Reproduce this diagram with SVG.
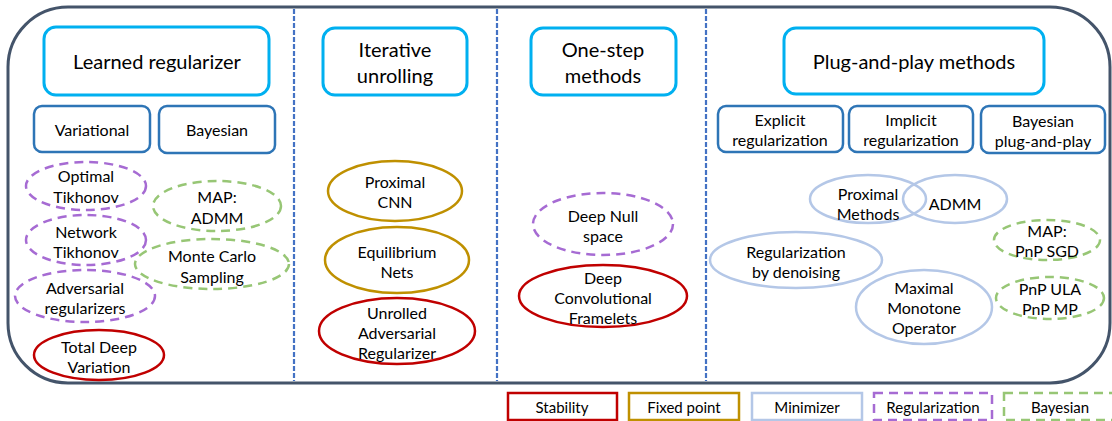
<svg xmlns="http://www.w3.org/2000/svg" width="1112" height="421" viewBox="0 0 1112 421">
<style>
text{font-family:Lato,"Open Sans","Liberation Sans",sans-serif;fill:#000;text-anchor:middle;dominant-baseline:central}
.h{font-size:20px}
.s{font-size:16px}
.e{font-size:16px}
.l{font-size:15px}
.hdr{fill:#fff;stroke:#00B0F0;stroke-width:3}
.sub{fill:#fff;stroke:#2E75B6;stroke-width:2.5}
.stab{fill:#fff;stroke:#C00000;stroke-width:2.5}
.fix{fill:#fff;stroke:#BF9000;stroke-width:2.5}
.min{fill:none;stroke:#B4C7E7;stroke-width:2.5}
.reg{fill:#fff;stroke:#A66BD3;stroke-width:2.5;stroke-dasharray:9 6}
.bay{fill:none;stroke:#97C675;stroke-width:2.5;stroke-dasharray:9 6}
.div{stroke:#4472C4;stroke-width:2.2;stroke-dasharray:5 2}
</style>
<rect id="frame" x="8" y="7" width="1102" height="376" rx="60" fill="none" stroke="#44546A" stroke-width="3"/>
<g id="connectors">
<line class="div" x1="294" y1="9" x2="294" y2="381"/>
<line class="div" x1="497" y1="9" x2="497" y2="381"/>
<line class="div" x1="706" y1="9" x2="706" y2="381"/>
</g>
<g id="hdr-learned"><rect class="hdr" x="44" y="27" width="225" height="68" rx="12"/><text class="h" x="157" y="61">Learned regularizer</text></g>
<g id="hdr-iter"><rect class="hdr" x="323" y="28" width="144" height="67" rx="12"/><text class="h" x="395" y="49">Iterative</text><text class="h" x="395" y="75">unrolling</text></g>
<g id="hdr-onestep"><rect class="hdr" x="531" y="28" width="145" height="67" rx="12"/><text class="h" x="603" y="49">One-step</text><text class="h" x="603" y="75">methods</text></g>
<g id="hdr-pnp"><rect class="hdr" x="784" y="28" width="260" height="66" rx="12"/><text class="h" x="914" y="61">Plug-and-play methods</text></g>
<g id="sub-variational"><rect class="sub" x="34" y="106" width="116" height="46" rx="8"/><text class="s" x="92" y="129">Variational</text></g>
<g id="sub-bayesian"><rect class="sub" x="159" y="106" width="116" height="47" rx="8"/><text class="s" x="217" y="129">Bayesian</text></g>
<g id="sub-explicit"><rect class="sub" x="718" y="106" width="125" height="46" rx="8"/><text class="s" x="780" y="119">Explicit</text><text class="s" x="780" y="139">regularization</text></g>
<g id="sub-implicit"><rect class="sub" x="849" y="106" width="124" height="46" rx="8"/><text class="s" x="911" y="119">Implicit</text><text class="s" x="911" y="139">regularization</text></g>
<g id="sub-bayespnp"><rect class="sub" x="981" y="106" width="124" height="47" rx="8"/><text class="s" x="1043" y="120">Bayesian</text><text class="s" x="1043" y="140">plug-and-play</text></g>
<g id="n-opt-tik"><ellipse class="reg" cx="86" cy="186" rx="60" ry="24"/><text class="e" x="86" y="175">Optimal</text><text class="e" x="86" y="196">Tikhonov</text></g>
<g id="n-map-admm"><ellipse class="bay" cx="217" cy="206" rx="64" ry="25"/><text class="e" x="217" y="196">MAP:</text><text class="e" x="217" y="217">ADMM</text></g>
<g id="n-net-tik"><ellipse class="reg" cx="86" cy="240" rx="60" ry="25"/><text class="e" x="86" y="231">Network</text><text class="e" x="86" y="251">Tikhonov</text></g>
<g id="n-mc"><ellipse class="bay" cx="212" cy="264" rx="77" ry="25"/><text class="e" x="212" y="255">Monte Carlo</text><text class="e" x="212" y="276">Sampling</text></g>
<g id="n-adv"><ellipse class="reg" cx="85" cy="296" rx="70" ry="26"/><text class="e" x="85" y="287">Adversarial</text><text class="e" x="85" y="307">regularizers</text></g>
<g id="n-tdv"><ellipse class="stab" cx="99" cy="355" rx="65" ry="25"/><text class="e" x="99" y="346">Total Deep</text><text class="e" x="99" y="366">Variation</text></g>
<g id="n-pcnn"><ellipse class="fix" cx="395" cy="191" rx="67" ry="30"/><text class="e" x="395" y="181">Proximal</text><text class="e" x="395" y="201">CNN</text></g>
<g id="n-eq"><ellipse class="fix" cx="397" cy="260" rx="72" ry="33"/><text class="e" x="397" y="251">Equilibrium</text><text class="e" x="397" y="271">Nets</text></g>
<g id="n-uar"><ellipse class="stab" cx="397" cy="331" rx="78" ry="33"/><text class="e" x="397" y="312">Unrolled</text><text class="e" x="397" y="332">Adversarial</text><text class="e" x="397" y="352">Regularizer</text></g>
<g id="n-dns"><ellipse class="reg" cx="603" cy="224" rx="70" ry="31"/><text class="e" x="603" y="215">Deep Null</text><text class="e" x="603" y="235">space</text></g>
<g id="n-dcf"><ellipse class="stab" cx="603" cy="296" rx="84" ry="31"/><text class="e" x="603" y="277">Deep</text><text class="e" x="603" y="297">Convolutional</text><text class="e" x="603" y="317">Framelets</text></g>
<g id="n-prox"><ellipse class="min" cx="868" cy="199" rx="58" ry="24"/><text class="e" x="868" y="193">Proximal</text><text class="e" x="868" y="213">Methods</text></g>
<g id="n-admm"><ellipse class="min" cx="955" cy="199" rx="52" ry="24"/><text class="e" x="955" y="203">ADMM</text></g>
<g id="n-red"><ellipse class="min" cx="796" cy="260" rx="86" ry="28"/><text class="e" x="796" y="251">Regularization</text><text class="e" x="796" y="271">by denoising</text></g>
<g id="n-mmo"><ellipse class="min" cx="924" cy="307" rx="68" ry="37"/><text class="e" x="924" y="287">Maximal</text><text class="e" x="924" y="307">Monotone</text><text class="e" x="924" y="327">Operator</text></g>
<g id="n-sgd"><ellipse class="bay" cx="1047" cy="240" rx="53" ry="20"/><text class="e" x="1047" y="230">MAP:</text><text class="e" x="1047" y="250">PnP SGD</text></g>
<g id="n-ula"><ellipse class="bay" cx="1050" cy="298" rx="54" ry="21"/><text class="e" x="1050" y="288">PnP ULA</text><text class="e" x="1050" y="308">PnP MP</text></g>
<g id="legend-stability"><rect class="stab" x="508" y="393" width="109" height="27"/><text class="l" x="562" y="407">Stability</text></g>
<g id="legend-fixed"><rect class="fix" x="629" y="393" width="110" height="27"/><text class="l" x="684" y="407">Fixed point</text></g>
<g id="legend-min"><rect class="min" x="752" y="393" width="110" height="27"/><text class="l" x="807" y="407">Minimizer</text></g>
<g id="legend-reg"><rect class="reg" x="874" y="393" width="118" height="27"/><text class="l" x="933" y="407">Regularization</text></g>
<g id="legend-bay"><rect class="bay" x="1004" y="393" width="112" height="27"/><text class="l" x="1060" y="407">Bayesian</text></g>
</svg>
